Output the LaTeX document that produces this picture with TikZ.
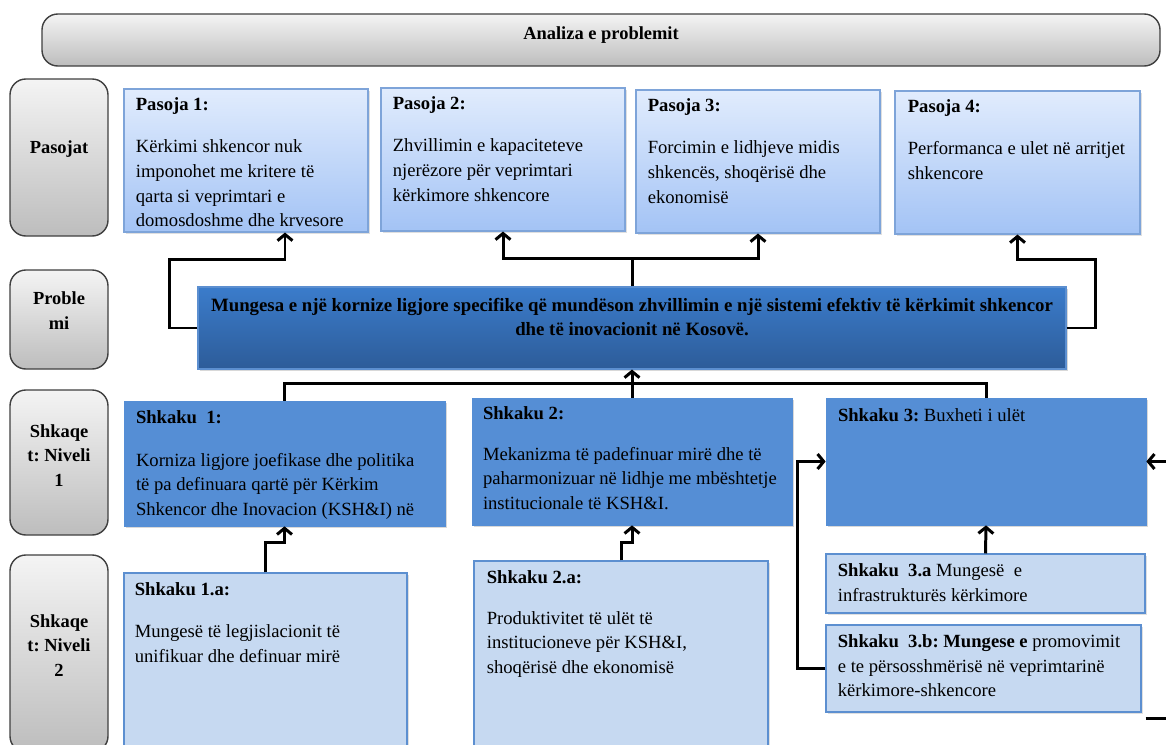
\documentclass[tikz,border=0pt]{standalone}
\usepackage{fontspec}
\setmainfont{Liberation Serif}
\usepackage{tikz}
\usetikzlibrary{arrows.meta,calc,fit,shadows}

\definecolor{grayline}{HTML}{404040}
\definecolor{graytop}{HTML}{F4F4F4}
\definecolor{graybot}{HTML}{BDBDBD}
\definecolor{pastop}{HTML}{E1ECFD}
\definecolor{pasbot}{HTML}{A3C3F5}
\definecolor{pasline}{HTML}{7EA4D9}
\definecolor{probtop}{HTML}{3B7CCB}
\definecolor{probbot}{HTML}{2D5C99}
\definecolor{shkblue}{HTML}{558ED5}
\definecolor{shklight}{HTML}{C6D9F1}
\definecolor{shkline}{HTML}{5C8FD0}

\begin{document}
\frenchspacing
\begin{tikzpicture}[x=0.02cm,y=-0.02cm,
  lbl/.style={rounded corners=9pt, draw=grayline, line width=0.8pt, top color=graytop, bottom color=graybot, inner sep=0pt},
  pasoja/.style={draw=pasline, line width=0.6pt, top color=pastop, bottom color=pasbot, inner sep=0pt,
    drop shadow={shadow xshift=1.2pt, shadow yshift=-1.2pt, opacity=0.25}},
  prob/.style={draw=shkline, line width=0.6pt, top color=probtop, bottom color=probbot, inner sep=0pt,
    drop shadow={shadow xshift=1.2pt, shadow yshift=-1.2pt, opacity=0.3}},
  shk/.style={fill=shkblue, draw=shkblue, inner sep=0pt,
    drop shadow={shadow xshift=1.2pt, shadow yshift=-1.2pt, opacity=0.3}},
  shklow/.style={fill=shklight, draw=shkline, line width=0.6pt, inner sep=0pt,
    drop shadow={shadow xshift=1.2pt, shadow yshift=-1.2pt, opacity=0.25}},
  txt/.style={anchor=north west, inner sep=0pt, align=left, font=\fontsize{10.6}{14}\selectfont},
  lbltxt/.style={inner sep=0pt, align=center, font=\fontsize{10.5}{14}\selectfont\bfseries},
  conn/.style={line width=1.7pt, black},
  tip/.style={-{Straight Barb[length=3.5pt,width=8.5pt]}}]
  \path[use as bounding box] (0,0) rectangle (1166,744);
  \clip (0,0) rectangle (1166,744);
  \fill[white] (0,0) rectangle (1166,744);

  % titulli
  \node[lbl, fit={(42,14) (1160,66)}] (title) {};
  \node[lbltxt] (titletxt) at ($(title.center)+(0,-5)$) {Analiza e problemit};

  % kolona majtas
  \node[lbl, fit={(10,79) (108,236)}] (lpas) {};
  \node[lbltxt] (lpastxt) at ($(lpas.center)+(0,-8)$) {Pasojat};
  \node[lbl, fit={(10,270) (108,369)}] (lprob) {};
  \node[lbltxt] (lprobtxt) at ($(lprob.center)+(0,-9)$) {Proble\\mi};
  \node[lbl, fit={(10,390) (108,535)}] (lniv1) {};
  \node[lbltxt] (lniv1txt) at ($(lniv1.center)+(0,-7)$) {Shkaqe\\t: Niveli\\1};
  \node[lbl, fit={(10,555) (108,752)}] (lniv2) {};
  \node[lbltxt] (lniv2txt) at ($(lniv2.center)+(0,-8)$) {Shkaqe\\t: Niveli\\2};

  % pasojat
  \node[pasoja, fit={(124,89) (368,232)}] (p1) {};
  \node[txt] (p1t) at ($(p1.north west)+(12,9)$) {\textbf{Pasoja 1:}\\[10pt]Kërkimi shkencor nuk\\imponohet me kritere të\\qarta si veprimtari e\\domosdoshme dhe krvesore};
  \node[pasoja, fit={(381,88) (625,231)}] (p2) {};
  \node[txt] (p2t) at ($(p2.north west)+(12,9)$) {\textbf{Pasoja 2:}\\[10pt]Zhvillimin e kapaciteteve\\njerëzore për veprimtari\\kërkimore shkencore};
  \node[pasoja, fit={(636,90) (880,233)}] (p3) {};
  \node[txt] (p3t) at ($(p3.north west)+(12,9)$) {\textbf{Pasoja 3:}\\[10pt]Forcimin e lidhjeve midis\\shkencës, shoqërisë dhe\\ekonomisë};
  \node[pasoja, fit={(895,91) (1140,234)}] (p4) {};
  \node[txt] (p4t) at ($(p4.north west)+(13,9)$) {\textbf{Pasoja 4:}\\[10pt]Performanca e ulet në arritjet\\shkencore};

  % problemi
  \node[prob, fit={(198,287) (1066,369)}] (pr) {};
  \node[inner sep=0pt, anchor=north, align=center, font=\fontsize{10.7}{14}\selectfont\bfseries] (prt) at ($(pr.north)+(0,11)$)
    {Mungesa e një kornize ligjore specifike që mundëson zhvillimin e një sistemi efektiv të kërkimit shkencor\\dhe të inovacionit në Kosovë.};

  % shkaqet niveli 1
  \node[shk, fit={(124,401) (445,526)}] (s1) {};
  \node[txt] (s1t) at ($(s1.north west)+(12,10)$) {\textbf{Shkaku\ \ 1:}\\[10pt]Korniza ligjore joefikase dhe politika\\të pa definuara qartë për Kërkim\\Shkencor dhe Inovacion (KSH\&I) në};
  \node[shk, fit={(472,398) (792,525)}] (s2) {};
  \node[txt] (s2t) at ($(s2.north west)+(11,9)$) {\textbf{Shkaku 2:}\\[9pt]Mekanizma të padefinuar mirë dhe të\\paharmonizuar në lidhje me mbështetje\\institucionale të KSH\&I.};
  \node[shk, fit={(826,398) (1146,525)}] (s3) {};
  \node[txt] (s3t) at ($(s3.north west)+(12,11)$) {\textbf{Shkaku 3:} Buxheti i ulët};

  % shkaqet niveli 2
  \node[shklow, fit={(124,573) (407,760)}] (s1a) {};
  \node[txt] (s1at) at ($(s1a.north west)+(11,10)$) {\textbf{Shkaku 1.a:}\\[10pt]Mungesë të legjislacionit të\\unifikuar dhe definuar mirë};
  \node[shklow, fit={(474,561) (768,760)}] (s2a) {};
  \node[txt] (s2at) at ($(s2a.north west)+(13,10)$) {\textbf{Shkaku 2.a:}\\[9pt]Produktivitet të ulët të\\institucioneve për KSH\&I,\\shoqërisë dhe ekonomisë};
  \node[shklow, fit={(826,554) (1145,613)}] (s3a) {};
  \node[txt] (s3at) at ($(s3a.north west)+(12,10)$) {\textbf{Shkaku\ \ 3.a} Mungesë\ \ e\\infrastrukturës kërkimore};
  \node[shklow, fit={(826,625) (1141,712)}] (s3b) {};
  \node[txt] (s3bt) at ($(s3b.north west)+(12,10)$) {\textbf{Shkaku\ \ 3.b: Mungese e} promovimit\\e te përsosshmërisë në veprimtarinë\\kërkimore-shkencore};

  % lidhjet problem -> pasojat
  \draw[conn] (pr.north) -- ++(0,-28) coordinate (prtop);
  \draw[conn,tip] (prtop) -| (p2.south);
  \draw[conn,tip] (prtop) -| (p3.south);
  \draw[conn,tip] (pr.west) -- ++(-28,0) |- ($(p1.south)+(39,27)$) -- ($(p1.south)+(39,0)$);
  \draw[conn,tip] (pr.east) -- ++(29,0) |- ($(p4.south)+(0,25)$) -- (p4.south);

  % lidhjet niveli 1 -> problem
  \draw[conn] (s1.north) -- ++(0,-17) -| (s3.north);
  \draw[conn,tip] (s2.north -| pr.south) -- (pr.south);

  % lidhjet niveli 2 -> niveli 1
  \draw[conn,tip] (s1a.north) -- ++(0,-30) -| (s1.south);
  \draw[conn,tip] (s2a.north) -- ++(0,-18) -| (s2.south);
  \draw[conn,tip] (s3a.north) -- (s3.north |- s3.south);
  \draw[conn,tip] (s3b.west) -- ++(-28,0) |- (s3.west);

  % skaji djathtas
  \coordinate (rin) at ($(s3.east)+(24,0)$);
  \draw[conn,tip] (rin) -- (s3.east);
  \coordinate (stub) at ($(s3b.south east)+(4,6)$);
  \draw[conn] (stub) -- ++(25,0);
\end{tikzpicture}
\end{document}
